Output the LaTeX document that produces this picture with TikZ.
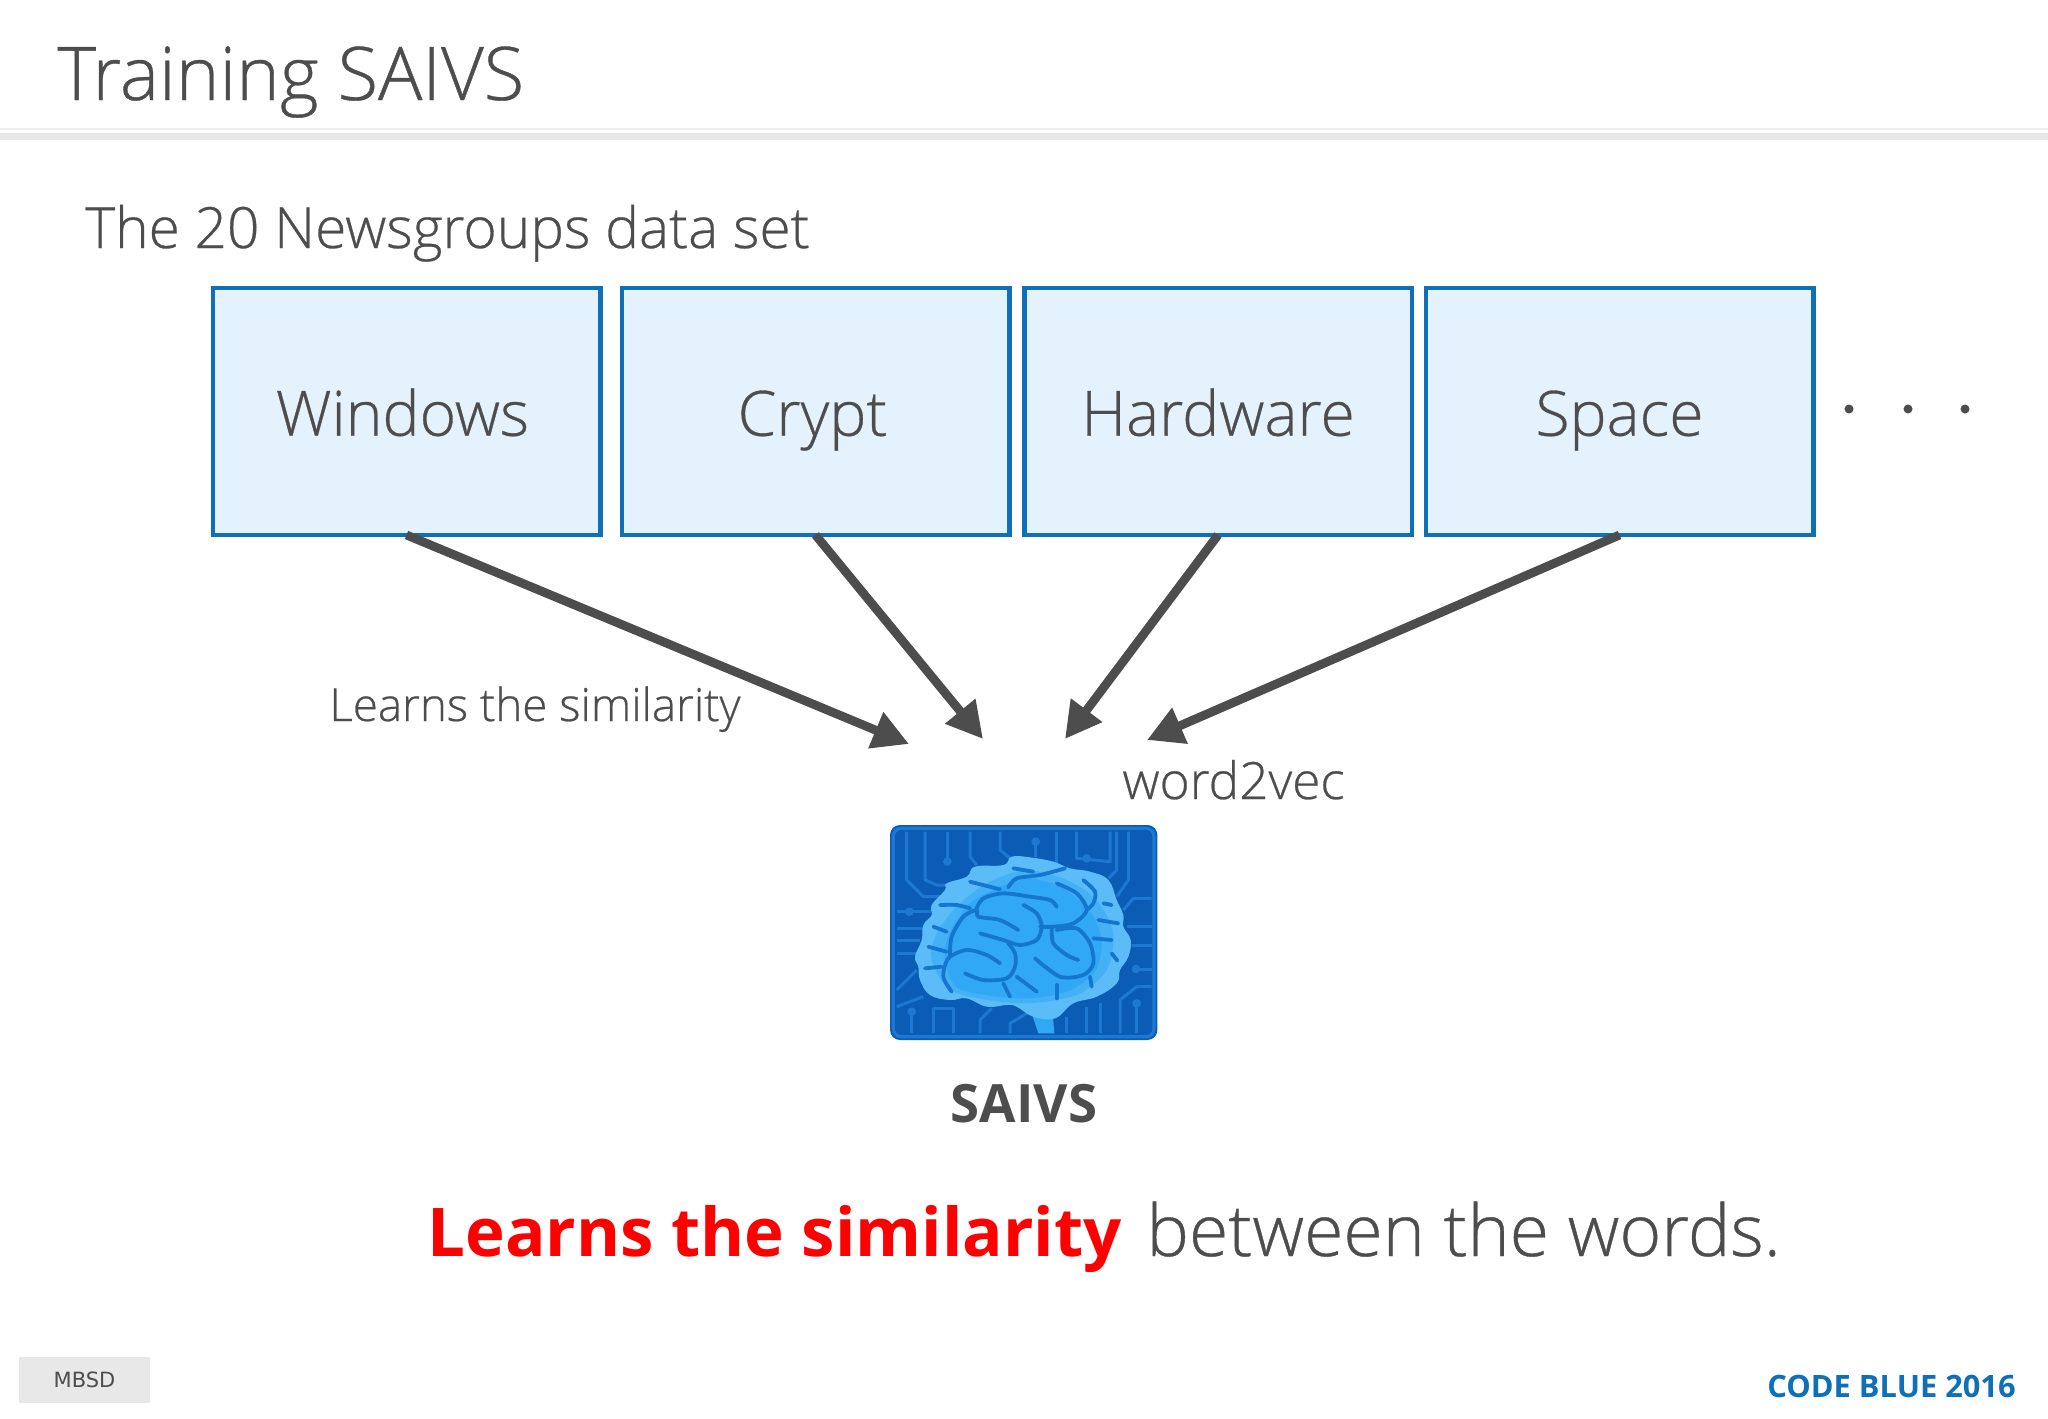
\documentclass[tikz,border=0pt]{standalone}
\usepackage{fontspec}
\setmainfont{Open Sans Light}[FakeBold=0.5]
\newfontfamily\reg{Open Sans}
\newfontfamily\vd{DejaVu Sans}
\usetikzlibrary{arrows.meta}
\definecolor{ink}{HTML}{4D4D4D}
\definecolor{boxline}{HTML}{0F6FB8}
\definecolor{boxfill}{HTML}{E3F2FD}
\definecolor{rulegrey}{HTML}{E8E8E8}
\definecolor{chipdark}{HTML}{0A5CB4}
\definecolor{chipline}{HTML}{1E78D2}
\definecolor{brainout}{HTML}{5CBCF8}
\definecolor{brainmid}{HTML}{44B1F7}
\definecolor{brainin}{HTML}{30A8F6}
\definecolor{fold}{HTML}{1476CC}
\definecolor{brandblue}{HTML}{0F6FB8}
\tikzset{
  txt/.style={anchor=base west,inner sep=0pt,text=ink},
  catbox/.style={draw=boxline,fill=boxfill,line width=2.25pt,outer sep=0pt,minimum width=193.75pt,minimum height=123.5pt,inner sep=0pt,text=ink,text height=30pt,text depth=5.8pt,font=\fontsize{31.2}{36}\selectfont},
  flow/.style={draw=ink,line width=4.4pt,-{Triangle[length=18pt,width=18.5pt]}},
  trace/.style={draw=chipline,line width=1.5pt,line join=round},
  foldl/.style={draw=fold,line width=1.9pt,line cap=round,line join=round},
  dotmark/.style={circle,fill=ink,inner sep=0pt,minimum size=4.5pt}
}
\begin{document}
\begin{tikzpicture}[x=0.5pt,y=-0.5pt]
\useasboundingbox (0,0) rectangle (2048,1418);
\fill[white] (0,0) rectangle (2048,1418);
% header rules
\fill[rulegrey!70!white] (0,127.5) rectangle (2048,129.5);
\fill[rulegrey] (0,133) rectangle (2048,140);
\node[txt,font=\fontsize{37}{40}\selectfont] (title) at (57,100) {Training SAIVS};
\node[txt,font=\fontsize{28.4}{32}\selectfont] (sub) at (85,248) {The 20 Newsgroups data set};
% boxes
\node[catbox] (win) at (406.5,411.5) {\hspace*{-4pt}Windows};
\node[catbox] (cry) at (815.5,411.5) {\hspace*{-3pt}Crypt};
\node[catbox] (har) at (1218,411.5) {Hardware};
\node[catbox] (spa) at (1619.5,411.5) {Space};
\node[dotmark] (d1) at (1849,409) {};
\node[dotmark] (d2) at (1908,409) {};
\node[dotmark] (d3) at (1965,409) {};
% arrow targets
\coordinate (t1) at (909,744);
\coordinate (t2) at (983,739);
\coordinate (t3) at (1065,739);
\coordinate (t4) at (1147,740);
\draw[flow] (win.south) -- (t1);
\draw[flow] (cry.south) -- (t2);
\draw[flow] (har.south) -- (t3);
\draw[flow] (spa.south) -- (t4);
\node[txt,font=\fontsize{22.85}{27}\selectfont] (learn) at (329,721) {Learns the similarity};
\node[txt,font=\fontsize{25.7}{28}\selectfont] (w2v) at (1122,799) {word2vec};
% brain chip
\begin{scope}[shift={(860,800)},x=0.16667pt,y=-0.16667pt]
\fill[chipdark,rounded corners=5pt] (90,75) rectangle (892,720);
\draw[trace,line width=1.6pt,rounded corners=4pt] (100,85) rectangle (882,710);
\foreach \p in {
 {(140,95)--(140,240)--(190,290)--(240,290)},
 {(195,95)--(195,240)--(230,255)--(300,255)},
 {(262,95)--(262,185)},
 {(330,95)--(330,170)--(350,195)},
 {(420,95)--(420,150)--(450,175)},
 {(527,125)--(527,170)},
 {(590,95)--(590,190)},
 {(650,95)--(650,175)--(750,185)--(750,95)},
 {(805,95)--(805,240)--(770,290)},
 {(770,95)--(770,210)--(745,235)},
 {(110,335)--(220,335)},
 {(110,385)--(190,385)},
 {(110,420)--(180,420)},
 {(110,460)--(170,460)},
 {(790,330)--(820,295)--(875,295)},
 {(800,380)--(875,380)},
 {(815,435)--(875,435)},
 {(815,507)--(875,507)},
 {(110,570)--(170,510)},
 {(110,620)--(190,590)},
 {(155,635)--(155,700)},
 {(220,700)--(220,625)--(280,625)--(280,700)},
 {(360,700)--(360,660)--(395,625)},
 {(450,700)--(450,670)--(500,640)},
 {(620,650)--(620,700)},
 {(680,620)--(680,700)},
 {(720,610)--(720,700)},
 {(780,700)--(780,600)--(830,560)--(875,560)},
 {(830,610)--(830,700)}}
 {\draw[trace] \p;}
\foreach \c in {(262,185),(527,125),(148,335),(828,507),(155,635),(830,610),(680,175)}
 {\fill[chipline] \c circle (13);}
% brain
\fill[brainin] (515,640) -- (535,700) -- (583,700) -- (578,640) -- cycle;
\fill[brainout] plot[smooth cycle,tension=0.7] coordinates {(175,500)(165,470)(185,420)(190,375)(215,345)(215,315)(255,270)(260,250)(320,230)(345,200)(430,195)(455,170)(510,172)(580,185)(630,205)(690,215)(745,240)(770,300)(790,345)(790,380)(812,420)(805,470)(780,510)(770,550)(710,590)(640,610)(585,655)(520,650)(470,620)(440,615)(380,620)(320,595)(270,600)(210,585)(180,540)};
\fill[brainmid] plot[smooth cycle] coordinates {(215,480)(230,400)(290,320)(380,250)(500,210)(620,240)(710,300)(760,400)(740,510)(650,585)(480,610)(280,575)};
\fill[brainin] plot[smooth cycle] coordinates {(255,470)(270,395)(330,310)(400,270)(500,235)(610,265)(690,335)(725,420)(705,515)(620,575)(480,595)(295,565)};
\foreach \q in {
 {(420,268)(330,245)},
 {(240,315)(290,315)(330,325)},
 {(220,380)(260,395)},
 {(205,440)(260,455)},
 {(195,505)(245,500)},
 {(275,575)(250,530)(265,475)(320,450)(380,465)(420,490)},
 {(270,470)(275,410)(310,350)(350,330)(355,350)(420,360)(475,390)},
 {(350,325)(370,295)(430,280)(510,290)(570,300)(590,320)},
 {(490,315)(530,340)(545,380)(530,420)(480,435)(430,420)(360,400)},
 {(315,520)(370,540)(440,535)(465,500)(465,460)(445,430)},
 {(430,550)(450,590)},
 {(470,530)(530,575)},
 {(590,555)(590,595)},
 {(445,262)(470,235)(540,225)(615,205)},
 {(460,205)(520,215)},
 {(590,250)(650,280)(680,330)(640,370)(580,380)(540,380)},
 {(670,240)(705,275)(700,310)(680,330)},
 {(575,385)(580,430)(620,465)(655,480)},
 {(590,390)(650,385)(690,430)(700,490)(670,525)(600,530)(525,475)},
 {(690,530)(695,560)},
 {(730,310)(755,315)},
 {(715,360)(775,370)},
 {(700,415)(755,420)},
 {(755,460)(772,482)}}
 {\draw[foldl] plot[smooth] coordinates \q;}
\end{scope}
\node[txt,anchor=base,font=\reg\bfseries\fontsize{26.4}{29}\selectfont] (saivs) at (1024,1122) {SAIVS};
\node[txt,font=\reg\bfseries\fontsize{33.6}{38}\selectfont,text=red] (hl) at (427,1256) {Learns the similarity};
\node[txt,font=\fontsize{35.8}{38}\selectfont] (rest) at (1146,1256) {between the words.};
% footer
\node[fill=rulegrey,minimum width=65.5pt,minimum height=23pt,inner sep=0pt,text=ink,font=\vd\fontsize{10.5}{12}\selectfont] (mbsd) at (84.5,1380) {MBSD};
\node[txt,text=brandblue,font=\reg\bfseries\fontsize{15.4}{18}\selectfont] (brand) at (1767,1397) {CODE BLUE 2016};
\end{tikzpicture}
\end{document}
